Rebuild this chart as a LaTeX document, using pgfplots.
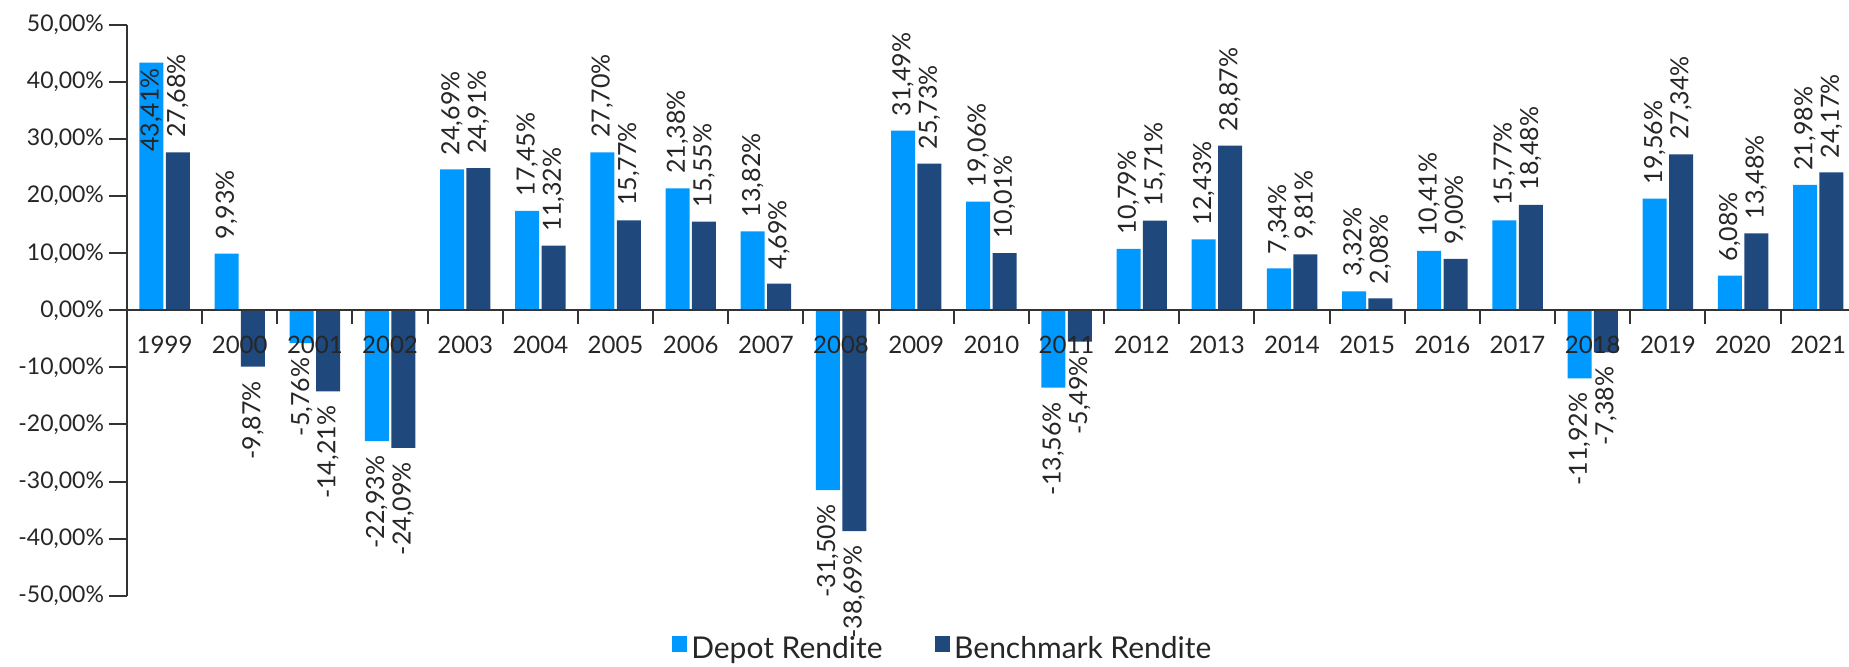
\documentclass[border=0pt]{standalone}
\usepackage{fontspec}
\setmainfont{Lato}
\usepackage{graphicx}
\usepackage{pgfplots}
\pgfplotsset{compat=1.18}
\definecolor{depot}{RGB}{0,153,255}
\definecolor{bench}{RGB}{31,72,124}
\definecolor{txt}{RGB}{38,38,38}
\begin{document}
\begin{tikzpicture}
\begin{axis}[
    scale only axis,
    width=864.4pt, height=285.35pt,
    xmin=-0.5, xmax=22.5,
    ymin=-50, ymax=50,
    axis on top,
    axis x line=middle, axis y line=left,
    axis line style={-, black!80, line width=1pt},
    ybar, bar width=12pt,
    xtick={0,...,22},
    xticklabels={1999,2000,2001,2002,2003,2004,2005,2006,2007,2008,2009,2010,2011,2012,2013,2014,2015,2016,2017,2018,2019,2020,2021},
    major x tick style={draw=none},
    minor xtick={0.5,1.5,...,21.5},
    minor tick length=7pt,
    major tick length=9pt,
    tick align=outside,
    tick style={black!80, line width=1pt},
    ytick={-50,-40,...,50},
    yticklabel={\pgfmathprintnumber[fixed,fixed zerofill,precision=2,use comma]{\tick}\%},
    /pgf/number format/assume math mode=true,
    tick label style={font=\fontsize{12}{14}\selectfont, text=txt},
    xticklabel style={yshift=-0.5pt},
    yticklabel style={xshift=1pt, font=\fontsize{11.5}{14}\selectfont},
    nodes near coords={\rotatebox{90}{\pgfmathprintnumber[fixed,fixed zerofill,precision=2,use comma,assume math mode=true]{\pgfplotspointmeta}\%}},
    nodes near coords align=vertical,
    every node near coord/.append style={font=\fontsize{12.5}{14}\selectfont, text=txt, inner xsep=0pt, inner ysep=7pt},
    legend style={at={(0.4723,-0.093)}, anchor=center, draw=none, fill=none,
        legend columns=2, font=\fontsize{15}{17}\selectfont, text=txt,
        /tikz/every even column/.append style={column sep=24pt}},
    legend image code/.code={\path[#1] (0pt,-1.5pt) rectangle (7.8pt,6.3pt);},
]
% Depot Rendite
\addplot[fill=depot, draw=none, bar shift=-6.6pt,
    coordinate style/.condition={y>40}{anchor=north, yshift=4.5pt}] coordinates {
    (0,43.41) (1,9.93) (2,-5.76) (3,-22.93) (4,24.69) (5,17.45) (6,27.70)
    (7,21.38) (8,13.82) (9,-31.50) (10,31.49) (11,19.06) (12,-13.56) (13,10.79)
    (14,12.43) (15,7.34) (16,3.32) (17,10.41) (18,15.77) (19,-11.92) (20,19.56)
    (21,6.08) (22,21.98)
};
% Benchmark Rendite
\addplot[fill=bench, draw=none, bar shift=6.6pt] coordinates {
    (0,27.68) (1,-9.87) (2,-14.21) (3,-24.09) (4,24.91) (5,11.32) (6,15.77)
    (7,15.55) (8,4.69) (9,-38.69) (10,25.73) (11,10.01) (12,-5.49) (13,15.71)
    (14,28.87) (15,9.81) (16,2.08) (17,9.00) (18,18.48) (19,-7.38) (20,27.34)
    (21,13.48) (22,24.17)
};
\legend{Depot Rendite, Benchmark Rendite}
\coordinate (pl) at (rel axis cs:0,0);
\end{axis}
\pgfresetboundingbox
\path ([xshift=-63.5pt,yshift=-35.15pt]pl) rectangle ([xshift=861pt,yshift=297.85pt]pl);
\end{tikzpicture}
\end{document}
